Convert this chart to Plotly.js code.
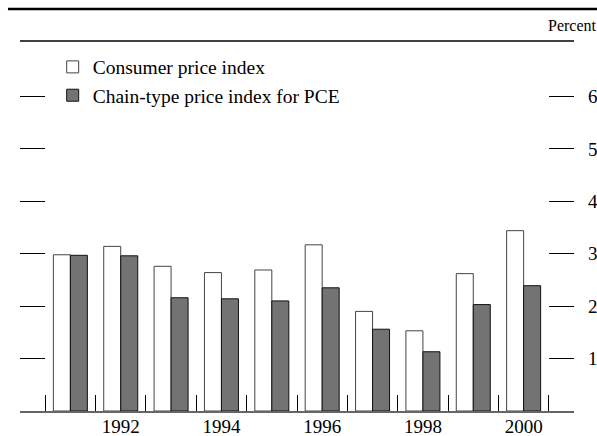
<!DOCTYPE html>
<html>
<head>
<meta charset="utf-8">
<script src="https://cdn.plot.ly/plotly-3.0.1.min.js"></script>
<style>
  html, body { margin: 0; padding: 0; background: #fff; }
  #chart { width: 597px; height: 436px; }
</style>
</head>
<body>
<div id="chart"></div>
<script>
// ---- Data ----
var years = [1991, 1992, 1993, 1994, 1995, 1996, 1997, 1998, 1999, 2000];
var cpi = [2.98, 3.14, 2.76, 2.64, 2.69, 3.17, 1.90, 1.53, 2.62, 3.44];
var pce = [2.97, 2.96, 2.16, 2.14, 2.10, 2.35, 1.56, 1.13, 2.03, 2.39];
var seriesNames = ["Consumer price index", "Chain-type price index for PCE"];
var yearLabels = [1992, 1994, 1996, 1998, 2000];
var yTicks = [1, 2, 3, 4, 5, 6];
var boundaryTicks = [1990.5, 1991.5, 1992.5, 1993.5, 1994.5, 1995.5, 1996.5, 1997.5, 1998.5, 1999.5, 2000.5];
var edgeTicks = [1990, 2001];

var FONT = "Liberation Serif";

var traces = [
  {
    type: "bar", x: years, y: cpi, name: seriesNames[0],
    marker: { color: "#ffffff", line: { color: "#444444", width: 1 } },
    hoverinfo: "skip"
  },
  {
    type: "bar", x: years, y: pce, name: seriesNames[1],
    marker: { color: "#737373", line: { color: "#111111", width: 1 } },
    hoverinfo: "skip"
  },
  {
    // empty trace so the edge-tick axis is drawn
    type: "scatter", x: [], y: [], xaxis: "x2", yaxis: "y",
    showlegend: false, hoverinfo: "skip"
  }
];

var layout = {
  width: 597, height: 436,
  margin: { l: 20, r: 23, t: 65, b: 25 },
  paper_bgcolor: "#ffffff", plot_bgcolor: "#ffffff",
  font: { family: FONT, size: 19, color: "#000000" },
  barmode: "group",
  bargap: 0.325,
  bargroupgap: 0,
  showlegend: true,
  legend: {
    x: 0.059, xanchor: "left", y: 1.05, yanchor: "top",
    bgcolor: "rgba(0,0,0,0)", borderwidth: 0,
    font: { family: FONT, size: 19.5, color: "#000" },
    tracegroupgap: 0
  },
  xaxis: {
    range: [1990, 2001],
    tickmode: "array", tickvals: yearLabels, ticktext: yearLabels.map(String),
    ticks: "", showgrid: false, zeroline: false,
    showline: true, linecolor: "#666666", linewidth: 2,
    ticklabelstandoff: -3,
    tickfont: { family: FONT, size: 19, color: "#000" },
    minor: {
      tickmode: "array", tickvals: boundaryTicks,
      ticks: "inside", ticklen: 16, tickwidth: 1, tickcolor: "#000",
      showgrid: false
    }
  },
  xaxis2: {
    overlaying: "x", matches: "x", anchor: "y",
    range: [1990, 2001],
    tickmode: "array", tickvals: edgeTicks,
    ticks: "inside", ticklen: 21, tickwidth: 1, tickcolor: "#000",
    showticklabels: false, showgrid: false, zeroline: false, showline: false
  },
  yaxis: {
    range: [0, 6.6], side: "right",
    tickmode: "array", tickvals: yTicks, ticktext: yTicks.map(String),
    ticks: "inside", ticklen: 25, tickwidth: 1, tickcolor: "#000",
    mirror: "ticks",
    ticklabelstandoff: 13,
    showgrid: false, zeroline: false, showline: false,
    tickfont: { family: FONT, size: 19, color: "#000" }
  },
  shapes: [
    { type: "line", xref: "paper", yref: "paper", x0: -0.0217, x1: 1.0415,
      y0: 1.162, y1: 1.162, line: { color: "#000", width: 2.5 } },
    { type: "line", xref: "paper", yref: "paper", x0: 0, x1: 1,
      y0: 1.0694, y1: 1.0694, line: { color: "#000", width: 1.5 } }
  ],
  annotations: [
    { text: "Percent", xref: "paper", yref: "paper", x: 1.0455, y: 1.1156,
      xanchor: "right", yanchor: "middle", showarrow: false,
      font: { family: FONT, size: 16, color: "#000" } }
  ]
};

Plotly.newPlot("chart", traces, layout, { displayModeBar: false, staticPlot: true });
</script>
</body>
</html>
